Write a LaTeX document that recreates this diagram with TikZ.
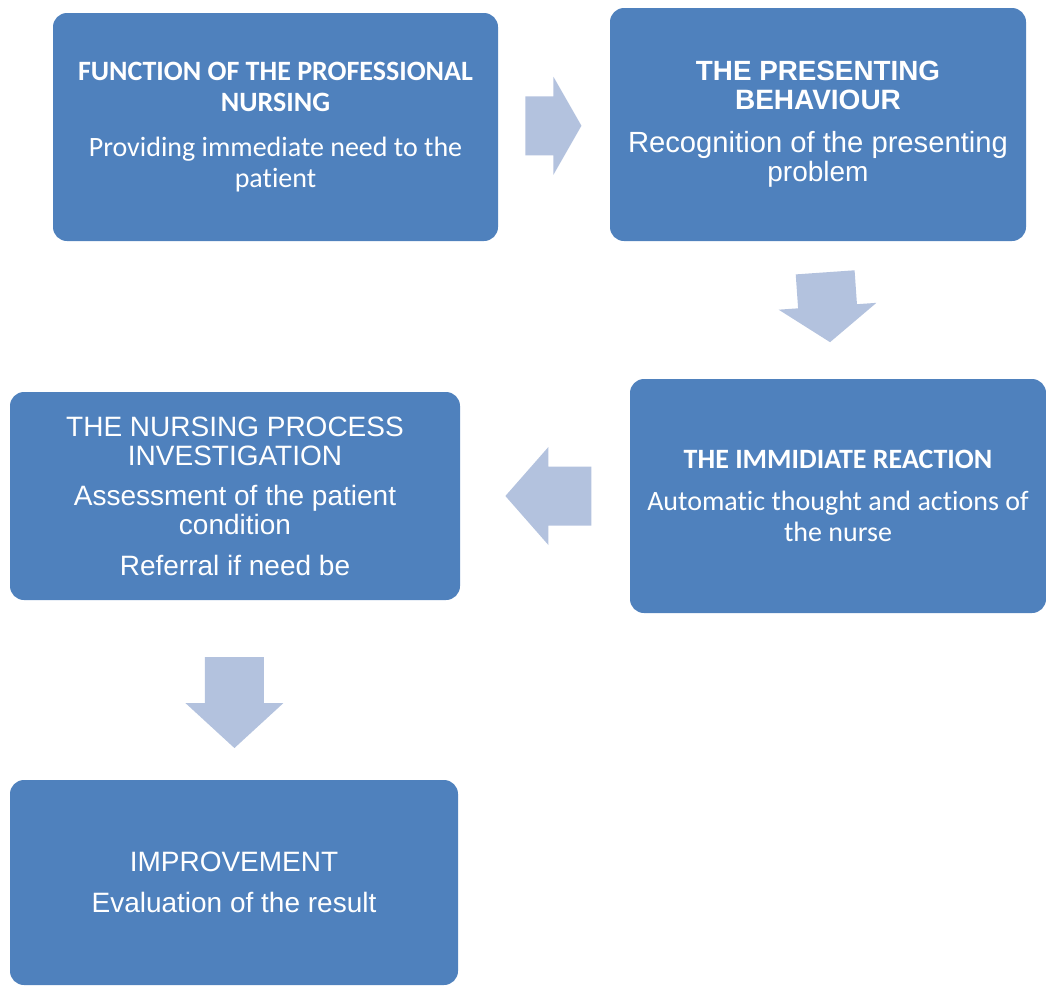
\documentclass[tikz,border=0pt]{standalone}
\usepackage{fontspec}
\newfontfamily\calfont[Ligatures=NoCommon]{Carlito}
\newfontfamily\arifont{Liberation Sans}
\usetikzlibrary{calc}
\definecolor{boxblue}{RGB}{79,129,189}
\definecolor{arrowblue}{RGB}{179,194,222}

\begin{document}
\begin{tikzpicture}[
  x=0.5pt, y=0.5pt,
  box/.style={fill=boxblue, rounded corners=7pt, text=white, align=center, inner sep=0pt},
  cal/.style={font=\calfont\fontsize{14}{15.5}\selectfont},
  ari/.style={font=\arifont\fontsize{14}{14.5}\selectfont},
  pics/blockarrow/.style n args={2}{code={
    \fill[arrowblue] ({-#1/2},-29.5) -- ({#1/2-#2},-29.5) -- ({#1/2-#2},-49) -- ({#1/2},0)
      -- ({#1/2-#2},49) -- ({#1/2-#2},29.5) -- ({-#1/2},29.5) -- cycle;
  }}
]
\useasboundingbox (0,0) rectangle (1046,-986);

\node[box, cal, minimum width=222.5pt, minimum height=114pt] (fn) at (275.5,-127)
  {\textbf{FUNCTION OF THE PROFESSIONAL}\\\textbf{NURSING}\\[7pt]Providing immediate need to the\\patient};
\node[box, ari, minimum width=208pt, minimum height=116.5pt] (pb) at (818,-124.5)
  {\bfseries\fontsize{13.9}{14.5}\selectfont THE PRESENTING\\\bfseries BEHAVIOUR\\[7pt]
   \fontsize{14.6}{15.5}\selectfont Recognition of the presenting\\problem};
\node[box, cal, minimum width=208pt, minimum height=117pt] (ir) at (838,-496)
  {\textbf{THE IMMIDIATE REACTION}\\[5.5pt]Automatic thought and actions of\\the nurse};
\node[box, ari, minimum width=225pt, minimum height=104pt] (ni) at (235,-496)
  {THE NURSING PROCESS\\INVESTIGATION\\[5.5pt]Assessment of the patient\\condition\\[6pt]Referral if need be};
\node[box, ari, minimum width=224pt, minimum height=102.5pt] (im) at (234,-882.5)
  {IMPROVEMENT\\[6pt]Evaluation of the result};

\pic at ($(fn.east)!0.495!(pb.west)$) {blockarrow={56}{28}};
\pic[rotate=-86] at ($(pb.south)!0.48!(ir.north)$) {blockarrow={70}{36}};
\pic[rotate=180] at ($(ir.west)!0.48!(ni.east)$) {blockarrow={86}{43}};
\pic[rotate=-90] at ($(ni.south)!0.57!(im.north)$) {blockarrow={91}{45}};

\end{tikzpicture}
\end{document}
